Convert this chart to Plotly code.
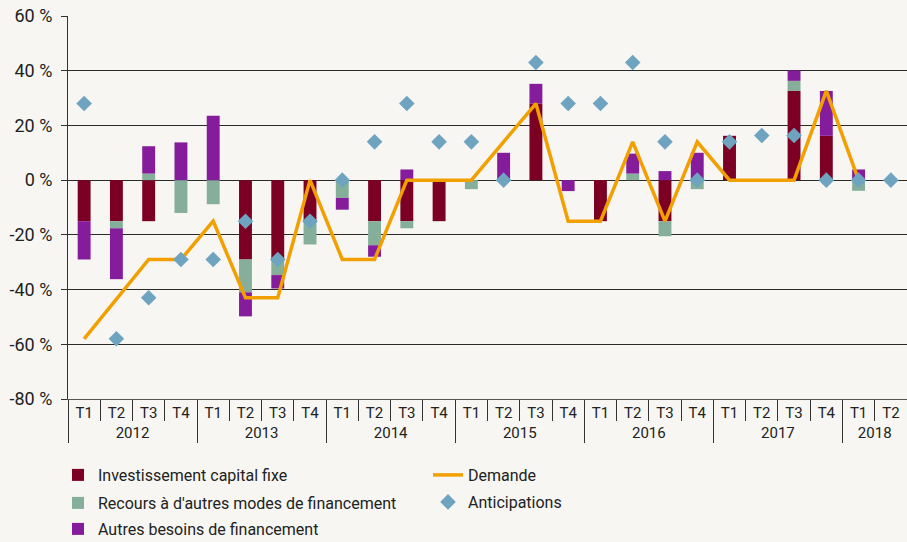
import plotly.graph_objects as go

years = ["2012"] * 4 + ["2013"] * 4 + ["2014"] * 4 + ["2015"] * 4 + ["2016"] * 4 + ["2017"] * 4 + ["2018"] * 2
quarters = ["T1", "T2", "T3", "T4"] * 6 + ["T1", "T2"]

invest = [-15, -15, -15, None, None, -29, -29, -15, None, -15, -15, -15, None, None, 28, None,
          -15, None, -15, None, 16.2, None, 32.6, 16.2, None, None]
recours = [None, -2.6, 2.4, -12, -8.8, -12, -5.7, -8.5, -6.5, -8.8, -2.6, None, -3.3, None, None, None,
           None, 2.4, -5.5, -3.3, None, None, 3.7, None, -3.9, None]
autres = [-14, -18.6, 10, 13.8, 23.5, -8.8, -4.9, None, -4.3, -4.2, 3.9, None, None, 10, 7.2, -4,
          None, 7.3, 3.3, 10, None, None, 3.8, 16.4, 3.9, None]
demande = [-58, -43.5, -29, -29, -15, -43, -43, 0, -29, -29, 0, 0, 0, 14, 28, -15,
           -15, 14, -15, 14, 0, 0, 0, 32.6, 0, None]
anticipations = [28, -58, -43, -29, -29, -15, -29, -15, 0, 14, 28, 14, 14, 0, 43, 28,
                 28, 43, 14, 0, 14, 16.3, 16.3, 0, 0, 0]

y_ticks = [60, 40, 20, 0, -20, -40, -60, -80]
y_labels = [f"{v} %" for v in y_ticks]

FONT = "Roboto, 'DejaVu Sans', sans-serif"
x = [years, quarters]

fig = go.Figure()
fig.add_trace(go.Bar(x=x, y=invest, name="Investissement capital fixe",
                     marker=dict(color="#7c0024", line=dict(width=0)), width=0.4, legend="legend"))
fig.add_trace(go.Bar(x=x, y=recours, name="Recours à d'autres modes de financement",
                     marker=dict(color="#86af9b", line=dict(width=0)), width=0.4, legend="legend2"))
fig.add_trace(go.Bar(x=x, y=autres, name="Autres besoins de financement",
                     marker=dict(color="#841c9b", line=dict(width=0)), width=0.4, legend="legend3"))
fig.add_trace(go.Scatter(x=x, y=demande, name="Demande", mode="lines",
                         line=dict(color="#f29f00", width=3.5), legend="legend4"))
fig.add_trace(go.Scatter(x=x, y=anticipations, name="Anticipations", mode="markers",
                         marker=dict(symbol="diamond", size=12, color="#6fa4c1"), legend="legend5"))


def leg(xpx, ypx):
    return dict(orientation="v", xref="container", yref="container",
                x=xpx / 907, y=1 - ypx / 542, xanchor="left", yanchor="middle",
                font=dict(family=FONT, size=16, color="#222"),
                bgcolor="rgba(0,0,0,0)", borderwidth=0)


fig.update_layout(
    width=907, height=542,
    margin=dict(l=68, r=0, t=16, b=143, autoexpand=False),
    paper_bgcolor="#f7f6f2", plot_bgcolor="#f7f6f2",
    barmode="relative",
    font=dict(family=FONT, size=15, color="#222"),
    showlegend=True,
    legend=leg(58, 475),
    legend2=leg(58, 503),
    legend3=leg(58, 529),
    legend4=leg(428, 475),
    legend5=leg(428, 502),
)
fig.update_yaxes(range=[-80, 60], tickvals=y_ticks, ticktext=y_labels, automargin=False,
                 showgrid=True, gridcolor="#2a2a2a", gridwidth=1,
                 zeroline=True, zerolinecolor="#2a2a2a", zerolinewidth=1,
                 showline=True, linecolor="#333", linewidth=1,
                 ticks="outside", ticklen=6, tickcolor="#333", ticklabelstandoff=5,
                 tickfont=dict(size=18, color="#222"))
fig.update_xaxes(type="multicategory", automargin=False, range=[-0.5, 25.5],
                 showline=True, linecolor="#555", linewidth=1,
                 ticks="outside", tickson="boundaries", ticklen=21, tickcolor="#333",
                 showdividers=True, dividercolor="#333", dividerwidth=1,
                 tickfont=dict(size=15, color="#222"))

fig.write_html("out.html", config={"displayModeBar": False},
               post_script="document.body.style.margin='0';")
